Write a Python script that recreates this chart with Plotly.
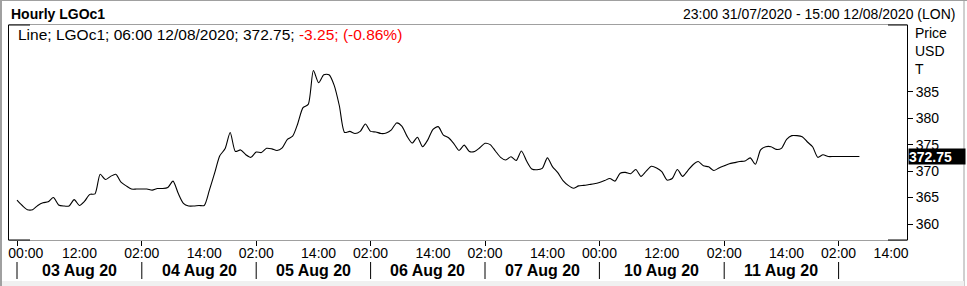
import plotly.graph_objects as go

# ---- data (hourly bars, index = bar number) ----
prices = [
    364.5, 363.5, 362.7, 362.7, 363.5, 364.0, 364.2, 365.0, 363.6, 363.4,
    363.4, 364.6, 363.5, 364.3, 365.6, 365.7, 369.4, 368.4, 369.0, 369.4,
    367.9, 367.2, 366.6, 366.6, 366.6, 366.6, 366.4, 366.7, 366.7, 366.9,
    368.1, 365.8, 363.9, 363.4, 363.4, 363.5, 363.5, 366.4, 369.6, 372.9,
    374.2, 377.3, 373.7, 374.0, 373.1, 372.6, 373.6, 373.5, 374.3, 374.2,
    373.9, 374.4, 376.0, 376.6, 379.0, 382.0, 382.6, 389.0, 386.7, 388.2,
    388.2, 386.2, 382.3, 377.3, 377.5, 377.1, 377.5, 378.9, 377.5, 377.4,
    377.1, 377.2, 377.8, 379.1, 378.5, 376.6, 375.3, 376.4, 374.6, 375.9,
    377.9, 378.4, 376.8, 376.3, 375.2, 373.9, 374.9, 373.7, 373.7, 374.4,
    375.25, 375.0, 373.8, 372.6, 372.1, 372.7, 372.0, 373.8, 371.9, 370.4,
    370.25, 370.5, 372.5, 370.8, 369.7, 368.2, 367.3, 366.75, 367.2, 367.3,
    367.45, 367.6, 367.85, 368.2, 368.6, 368.1, 369.6, 369.75, 369.5, 370.3,
    369.0, 370.0, 370.9, 370.6, 369.9, 368.3, 368.6, 370.3, 369.0, 370.1,
    371.2, 371.8, 371.0, 370.8, 370.1, 370.6, 371.0, 371.4, 371.6, 371.8,
    371.9, 372.5, 371.3, 374.0, 374.6, 374.6, 374.1, 374.3, 376.0, 376.7,
    376.7, 376.5, 375.5, 374.6, 372.6, 373.1, 372.75, 372.75, 372.75, 372.75,
    372.75, 372.75, 372.75,
]
bar_index = list(range(len(prices)))

hour_tick_pos = [1.7, 12, 24, 36, 46, 58, 68, 80, 90, 102, 112, 124, 136, 148, 158, 168.1]
hour_tick_text = ["00:00", "12:00", "02:00", "14:00", "02:00", "14:00", "02:00", "14:00",
                  "02:00", "14:00", "00:00", "12:00", "02:00", "14:00", "02:00", "14:00"]
day_bounds = [0, 24, 46, 68, 90, 112, 136, 158]
day_labels = ["03 Aug 20", "04 Aug 20", "05 Aug 20", "06 Aug 20",
              "07 Aug 20", "10 Aug 20", "11 Aug 20"]
y_ticks = [360, 365, 370, 375, 380, 385]

title_left = "Hourly LGOc1"
title_right = "23:00 31/07/2020 - 15:00 12/08/2020 (LON)"
legend_black = "Line; LGOc1; 06:00 12/08/2020; 372.75; "
legend_red = "-3.25; (-0.86%)"
unit_lines = ["Price", "USD", "T"]

# ---- geometry ----
W, H = 967, 286
L, R, T, B = 9, 907, 25, 240
FONT = "Liberation Sans, Arial, sans-serif"


def px2x(px):
    return (px - L) / (R - L)


def px2y(py):
    return (B - py) / (B - T)


fig = go.Figure()
fig.add_trace(go.Scatter(
    x=bar_index, y=prices, mode="lines",
    line=dict(color="black", width=1.1, shape="spline", smoothing=0.7),
    hoverinfo="skip", showlegend=False,
))

shapes = []
# day separators in lower label row
for b in day_bounds:
    shapes.append(dict(type="line", xref="x", yref="paper", x0=b, x1=b,
                       y0=px2y(262), y1=px2y(279), line=dict(color="black", width=1)))
# black corner segments on top/bottom borders
for (xa, xb) in [(L, L + 21), (R - 19, R)]:
    for yy in [T, B]:
        shapes.append(dict(type="line", xref="paper", yref="paper",
                           x0=px2x(xa), x1=px2x(xb), y0=px2y(yy), y1=px2y(yy),
                           line=dict(color="black", width=1)))
# window frame
shapes += [
    dict(type="line", xref="paper", yref="paper", x0=px2x(1), x1=px2x(1),
         y0=px2y(0), y1=px2y(286), line=dict(color="#a0a0a0", width=2)),
    dict(type="line", xref="paper", yref="paper", x0=px2x(0), x1=px2x(967),
         y0=px2y(0.5), y1=px2y(0.5), line=dict(color="#a0a0a0", width=1)),
    dict(type="line", xref="paper", yref="paper", x0=px2x(964), x1=px2x(964),
         y0=px2y(0), y1=px2y(286), line=dict(color="#a0a0a0", width=1)),
    dict(type="rect", xref="paper", yref="paper", x0=px2x(2), x1=px2x(964),
         y0=px2y(281), y1=px2y(286), fillcolor="#f0f0f0", line=dict(width=0)),
]

annotations = []
for i, lab in enumerate(day_labels):
    mid = (day_bounds[i] + day_bounds[i + 1]) / 2
    annotations.append(dict(x=mid, xref="x", y=px2y(270), yref="paper", text="<b>%s</b>" % lab,
                            showarrow=False, xanchor="center", yanchor="middle",
                            font=dict(family=FONT, size=16, color="black")))
annotations.append(dict(x=px2x(9), xref="paper", y=px2y(14), yref="paper",
                        text="<b>%s</b>" % title_left, showarrow=False,
                        xanchor="left", yanchor="middle",
                        font=dict(family=FONT, size=14, color="black")))
annotations.append(dict(x=px2x(957), xref="paper", y=px2y(14), yref="paper",
                        text=title_right, showarrow=False,
                        xanchor="right", yanchor="middle",
                        font=dict(family=FONT, size=14, color="black")))
annotations.append(dict(x=px2x(16), xref="paper", y=px2y(35), yref="paper",
                        text=legend_black + "<span style='color:#ff0000'>" + legend_red + "</span>",
                        showarrow=False, xanchor="left", yanchor="middle",
                        font=dict(family=FONT, size=15.5, color="black")))
for k, t in enumerate(unit_lines):
    annotations.append(dict(x=px2x(913), xref="paper", y=px2y(33 + 18 * k), yref="paper",
                            text=t, showarrow=False, xanchor="left", yanchor="middle",
                            font=dict(family=FONT, size=14, color="black")))
annotations.append(dict(x=px2x(908), xref="paper", y=prices[-1], yref="y",
                        text="<b>%.2f</b>" % prices[-1], showarrow=False,
                        xanchor="left", yanchor="middle", align="left",
                        bgcolor="black", borderpad=0, width=56, height=15,
                        font=dict(family=FONT, size=14, color="white")))

fig.update_layout(
    width=W, height=H,
    margin=dict(l=L, r=W - R, t=T, b=H - B, pad=0),
    paper_bgcolor="white", plot_bgcolor="white",
    shapes=shapes, annotations=annotations,
    xaxis=dict(
        range=[(L - 17) / 5.2, (R - 17) / 5.2],
        tickmode="array", tickvals=hour_tick_pos, ticktext=hour_tick_text,
        ticks="", showgrid=False, zeroline=False,
        showline=True, linecolor="#a0a0a0", linewidth=1, mirror=True,
        tickfont=dict(family=FONT, size=14, color="black"),
        minor=dict(tickmode="array", tickvals=day_bounds, ticks="outside",
                   ticklen=5, tickcolor="black", tickwidth=1, showgrid=False),
        fixedrange=True,
    ),
    yaxis=dict(
        range=[360 - (B - 224) / 5.29, 385 + (91.7 - T) / 5.29],
        side="right", tickmode="array", tickvals=y_ticks,
        ticks="outside", ticklen=5, tickcolor="black", tickwidth=1,
        showgrid=False, zeroline=False,
        showline=True, linecolor="black", linewidth=1, mirror=True,
        tickfont=dict(family=FONT, size=14, color="black"),
        fixedrange=True,
    ),
)

fig.write_html("out.html")
